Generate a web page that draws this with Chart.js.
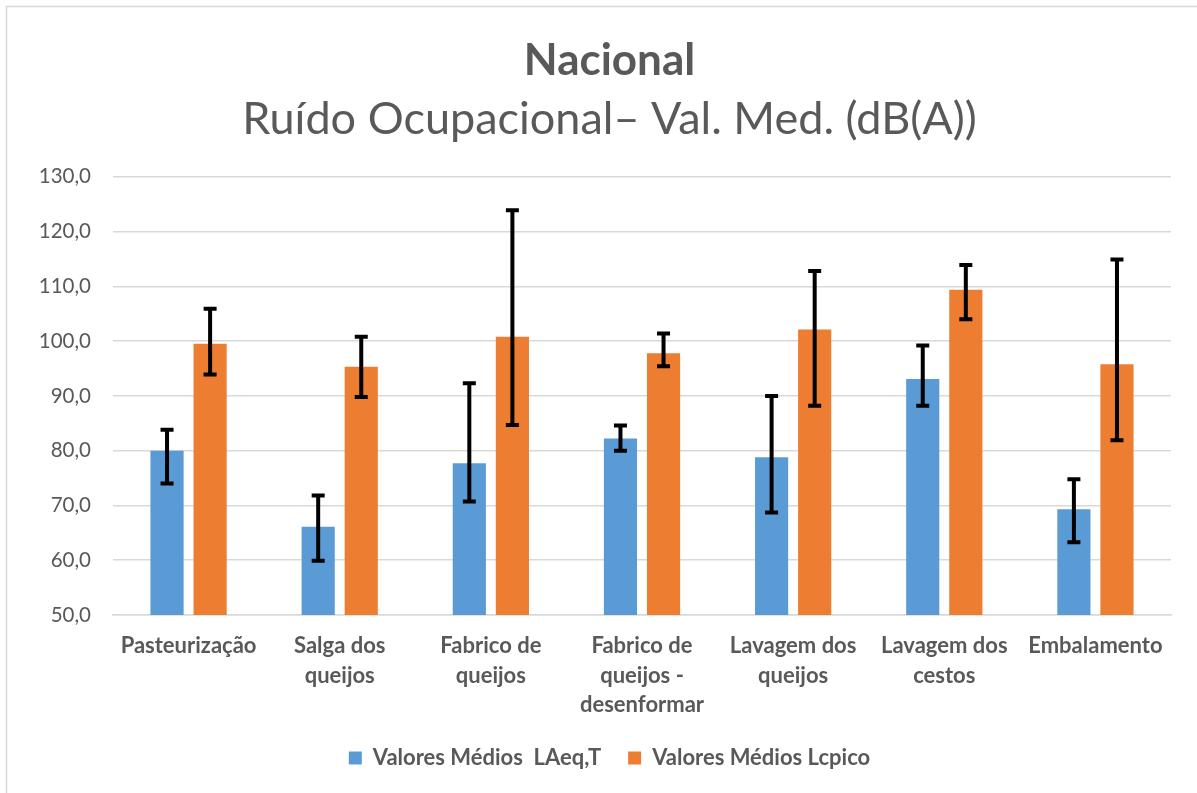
<!DOCTYPE html>
<html>
<head>
<meta charset="utf-8">
<script src="https://cdn.jsdelivr.net/npm/chart.js@4/dist/chart.umd.min.js"></script>
<style>
  html, body { margin: 0; padding: 0; background: #fff; }
  #wrap { position: relative; width: 1197px; height: 793px; }
</style>
</head>
<body>
<div id="wrap"><canvas id="chart"></canvas></div>
<script>
const categories = [
    'Pasteurização',
    ['Salga dos', 'queijos'],
    ['Fabrico de', 'queijos'],
    ['Fabrico de', 'queijos -', 'desenformar'],
    ['Lavagem dos', 'queijos'],
    ['Lavagem dos', 'cestos'],
    'Embalamento'
];
const laeqValues = [80.0, 66.1, 77.7, 82.2, 78.8, 93.1, 69.3];
const laeqLow = [74.0, 59.9, 70.7, 80.0, 68.7, 88.2, 63.3];
const laeqHigh = [83.8, 71.8, 92.3, 84.6, 90.0, 99.2, 74.8];
const lcpicoValues = [99.5, 95.3, 100.8, 97.8, 102.1, 109.4, 95.8];
const lcpicoLow = [93.9, 89.8, 84.7, 95.4, 88.2, 104.0, 81.9];
const lcpicoHigh = [105.9, 100.8, 123.9, 101.4, 112.8, 113.9, 114.9];
const yTicks = [50, 60, 70, 80, 90, 100, 110, 120, 130];

const textColor = '#595959';
const fontFamily = 'Lato, "Open Sans", sans-serif';

// whiskers drawn from the low/high arrays through the y scale
const errorBars = {
    id: 'errorBars',
    afterDatasetsDraw(chart) {
        const ctx = chart.ctx;
        const y = chart.scales.y;
        chart.data.datasets.forEach((ds, i) => {
            const meta = chart.getDatasetMeta(i);
            meta.data.forEach((bar, j) => {
                const top = y.getPixelForValue(ds.errHigh[j]);
                const bottom = y.getPixelForValue(ds.errLow[j]);
                ctx.save();
                ctx.strokeStyle = '#000';
                ctx.lineWidth = 4;
                ctx.beginPath();
                ctx.moveTo(bar.x, top);
                ctx.lineTo(bar.x, bottom);
                ctx.moveTo(bar.x - 6.5, top);
                ctx.lineTo(bar.x + 6.5, top);
                ctx.moveTo(bar.x - 6.5, bottom);
                ctx.lineTo(bar.x + 6.5, bottom);
                ctx.stroke();
                ctx.restore();
            });
        });
    }
};

const frame = {
    id: 'frame',
    beforeDraw(chart) {
        const ctx = chart.ctx;
        ctx.save();
        ctx.strokeStyle = '#d9d9d9';
        ctx.lineWidth = 1.5;
        ctx.beginPath();
        ctx.moveTo(6.5, chart.height + 5);
        ctx.lineTo(6.5, 6.5);
        ctx.lineTo(chart.width + 5, 6.5);
        ctx.stroke();
        ctx.restore();
    }
};

new Chart(document.getElementById('chart'), {
    type: 'bar',
    data: {
        labels: categories,
        datasets: [
            {
                label: 'Valores Médios  LAeq,T',
                data: laeqValues,
                errLow: laeqLow,
                errHigh: laeqHigh,
                backgroundColor: '#5b9bd5'
            },
            {
                label: 'Valores Médios Lcpico',
                data: lcpicoValues,
                errLow: lcpicoLow,
                errHigh: lcpicoHigh,
                backgroundColor: '#ed7d31'
            }
        ]
    },
    options: {
        responsive: true,
        maintainAspectRatio: false,
        animation: false,
        categoryPercentage: 0.57,
        barPercentage: 0.77,
        // the original frame is wider than the shot, so titles sit a bit right of centre
        layout: { padding: { top: 34, right: 0, left: 22, bottom: 14 } },
        plugins: {
            title: {
                display: true,
                text: 'Nacional',
                color: textColor,
                font: { family: fontFamily, size: 44, weight: 'bold' },
                padding: { top: 0, bottom: 6 }
            },
            subtitle: {
                display: true,
                text: 'Ruído Ocupacional– Val. Med. (dB(A))',
                color: textColor,
                font: { family: fontFamily, size: 45, weight: 'normal' },
                padding: { top: 0, bottom: 30 }
            },
            legend: {
                position: 'bottom',
                labels: {
                    color: textColor,
                    font: { family: fontFamily, size: 22, weight: 'bold' },
                    boxWidth: 13,
                    boxHeight: 13,
                    padding: 27
                }
            },
            tooltip: { enabled: false }
        },
        scales: {
            x: {
                grid: { display: false },
                border: { color: '#d9d9d9', width: 1.5 },
                afterFit(scale) {
                    scale.height = 105;
                },
                ticks: {
                    color: textColor,
                    font: { family: fontFamily, size: 22, weight: 'bold', lineHeight: 1.35 },
                    maxRotation: 0,
                    autoSkip: false,
                    padding: 8
                }
            },
            y: {
                min: 50,
                max: 130,
                afterBuildTicks(scale) {
                    scale.ticks = yTicks.map(v => ({ value: v }));
                },
                afterFit(scale) {
                    scale.width = 91;
                },
                grid: { color: '#d9d9d9', lineWidth: 1.5, drawTicks: false },
                border: { display: false },
                ticks: {
                    color: textColor,
                    font: { family: fontFamily, size: 20.5 },
                    padding: 22,
                    callback: v => v.toFixed(1).replace('.', ',')
                }
            },
            // empty right margin of the plot
            yRight: {
                type: 'linear',
                position: 'right',
                afterFit(scale) {
                    scale.width = 26;
                },
                grid: { display: false },
                border: { display: false },
                ticks: { display: false }
            }
        }
    },
    plugins: [errorBars, frame]
});
</script>
</body>
</html>
